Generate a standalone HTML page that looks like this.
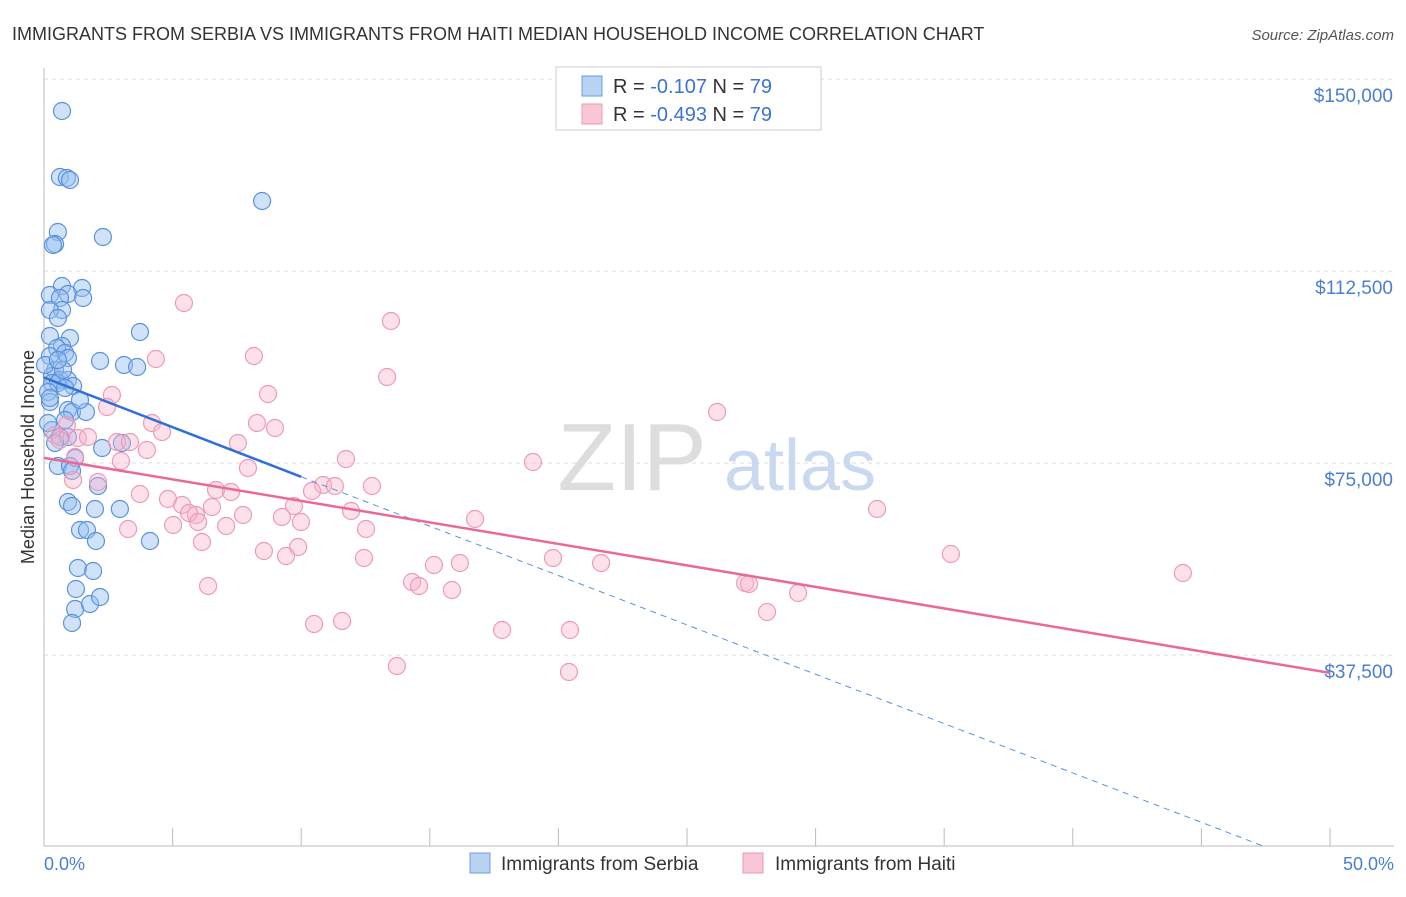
<!DOCTYPE html>
<html><head><meta charset="utf-8"><style>
body{margin:0;background:#fff;font-family:"Liberation Sans",sans-serif;}
svg text{font-family:"Liberation Sans",sans-serif;}
</style></head><body>
<svg width="1406" height="892" viewBox="0 0 1406 892">
<text x="12" y="40" font-size="18" fill="#333">IMMIGRANTS FROM SERBIA VS IMMIGRANTS FROM HAITI MEDIAN HOUSEHOLD INCOME CORRELATION CHART</text>
<text x="1394" y="40" font-size="15" fill="#555" font-style="italic" text-anchor="end">Source: ZipAtlas.com</text>
<g id="grid"></g>
<text x="632" y="490" font-size="96" fill="#ddd" font-family="Liberation Serif" text-anchor="middle">ZIP</text>
<text x="800" y="490" font-size="72" fill="#c9d9ef" text-anchor="middle">atlas</text>
<line x1="44" y1="68" x2="44" y2="846" stroke="#bbb"/>
<line x1="44" y1="846" x2="1394" y2="846" stroke="#bbb"/>
<text transform="translate(34,457) rotate(-90)" font-size="18" fill="#333" text-anchor="middle">Median Household Income</text>
<text x="44" y="870" font-size="18" fill="#4a7fd0">0.0%</text>
<text x="1394" y="870" font-size="18" fill="#4a7fd0" text-anchor="end">50.0%</text>
<g id="pts"></g>
<g id="trends"></g>
<g>
<rect x="556" y="67" width="265" height="63" fill="#fff" stroke="#ccc"/>
<rect x="582" y="76" width="20" height="20" fill="#b9d3f5" stroke="#6a9ee0"/>
<rect x="582" y="104" width="20" height="20" fill="#f9c6d6" stroke="#ec98b4"/>
<text x="613" y="93" font-size="20" fill="#333">R = <tspan fill="#3a74d0">-0.107</tspan>   N = <tspan fill="#3a74d0">79</tspan></text>
<text x="613" y="121" font-size="20" fill="#333">R = <tspan fill="#3a74d0">-0.493</tspan>   N = <tspan fill="#3a74d0">79</tspan></text>
</g>
<g>
<rect x="470" y="853" width="20" height="20" fill="#b9d3f5" stroke="#6a9ee0"/>
<text x="501" y="870" font-size="19" fill="#333">Immigrants from Serbia</text>
<rect x="743" y="853" width="20" height="20" fill="#f9c6d6" stroke="#ec98b4"/>
<text x="775" y="870" font-size="19" fill="#333">Immigrants from Haiti</text>
</g>
</svg>
<script>
const yTicks=[37500,75000,112500,150000];
const yTickLabels=["$37,500","$75,000","$112,500","$150,000"];
const xTicks=[0,5,10,15,20,25,30,35,40,45,50];
const serbiaPx=[[62,111],[60,177],[67,178],[70,180],[262,201],[58,232],[55,244],[53,245],[103,237],[62,286],[50,295],[82,288],[68,294],[83,298],[60,298],[62,310],[50,310],[58,318],[140,332],[50,336],[70,338],[62,346],[57,348],[65,353],[50,356],[68,358],[100,361],[124,365],[137,367],[55,370],[52,376],[60,380],[68,380],[52,383],[58,383],[73,386],[48,392],[50,402],[68,410],[72,412],[86,412],[65,420],[52,430],[60,437],[68,437],[102,448],[122,443],[75,458],[58,466],[70,466],[72,471],[98,486],[68,502],[72,506],[95,509],[120,509],[80,530],[87,530],[96,541],[150,541],[78,568],[93,571],[76,589],[75,609],[90,604],[100,597],[72,623],[48,423],[55,443],[50,398],[65,388],[80,400],[63,370],[45,365],[58,360]];
const haitiPx=[[184,303],[391,321],[254,356],[156,359],[387,377],[268,394],[112,395],[107,407],[717,412],[152,423],[257,423],[275,428],[162,432],[67,425],[55,435],[60,440],[78,438],[88,437],[117,442],[130,442],[147,450],[238,443],[346,459],[121,461],[75,457],[248,468],[533,462],[73,480],[98,482],[140,494],[168,499],[216,490],[231,492],[372,486],[323,485],[335,486],[312,491],[182,505],[196,515],[189,513],[212,507],[243,515],[294,506],[351,511],[475,519],[877,509],[128,529],[173,525],[198,522],[226,526],[282,517],[301,522],[366,529],[202,542],[264,551],[298,547],[286,556],[364,558],[553,558],[601,563],[434,565],[460,563],[951,554],[412,582],[419,586],[452,590],[745,583],[749,584],[798,593],[1183,573],[208,586],[767,612],[342,621],[314,624],[502,630],[570,630],[397,666],[569,672]];
// convert read positions to data values (percent, dollars)
const serbiaX=serbiaPx.map(p=>+((p[0]-44)/1286*50).toFixed(2));
const serbiaY=serbiaPx.map(p=>Math.round((847-p[1])/192*37500));
const haitiX=haitiPx.map(p=>+((p[0]-44)/1286*50).toFixed(2));
const haitiY=haitiPx.map(p=>Math.round((847-p[1])/192*37500));
const serbiaTrend=[[0,91700],[10,72300],[47.5,0]];
const haitiTrend=[[0,76000],[50,34000]];
const NS="http://www.w3.org/2000/svg";
const sx=v=>44+v/50*1286;
const sy=v=>847-v/37500*192;
function mk(t,a,parent){const e=document.createElementNS(NS,t);for(const k in a)e.setAttribute(k,a[k]);parent.appendChild(e);return e;}
const grid=document.getElementById('grid');
yTicks.forEach((v,i)=>{
 const l=mk('line',{x1:44,x2:1394,y1:sy(v),y2:sy(v),stroke:'#ddd','stroke-dasharray':'4,4'},grid);
 
 
 const t=mk('text',{x:1393,y:sy(v)+23,'font-size':19,fill:'#4a7fd0','text-anchor':'end'},grid);
 t.textContent=yTickLabels[i];
 
 
});
xTicks.forEach(v=>{
 const l=mk('line',{x1:sx(v),x2:sx(v),y1:828,y2:846,stroke:'#bbb'},grid);
 
 
});
const pts=document.getElementById('pts');
serbiaX.forEach((x,i)=>{
 const c=mk('circle',{cx:sx(x),cy:sy(serbiaY[i]),r:8.5,fill:'rgba(150,190,240,0.45)',stroke:'#5a92dc','stroke-width':1.2},pts);
 
 
});
haitiX.forEach((x,i)=>{
 const c=mk('circle',{cx:sx(x),cy:sy(haitiY[i]),r:8.5,fill:'rgba(248,180,202,0.4)',stroke:'#ee9ab6','stroke-width':1.2},pts);
 
 
});
const tr=document.getElementById('trends');
const s1=mk('line',{x1:sx(serbiaTrend[0][0]),y1:sy(serbiaTrend[0][1]),x2:sx(serbiaTrend[1][0]),y2:sy(serbiaTrend[1][1]),stroke:'#2f6fd6','stroke-width':2.5},tr);


const s2=mk('line',{x1:sx(serbiaTrend[1][0]),y1:sy(serbiaTrend[1][1]),x2:sx(serbiaTrend[2][0]),y2:sy(serbiaTrend[2][1]),stroke:'#5a92dc','stroke-width':1,'stroke-dasharray':'6,5'},tr);


const h1=mk('line',{x1:sx(haitiTrend[0][0]),y1:sy(haitiTrend[0][1]),x2:sx(haitiTrend[1][0]),y2:sy(haitiTrend[1][1]),stroke:'#e8699a','stroke-width':2.5},tr);


</script>
</body></html>
